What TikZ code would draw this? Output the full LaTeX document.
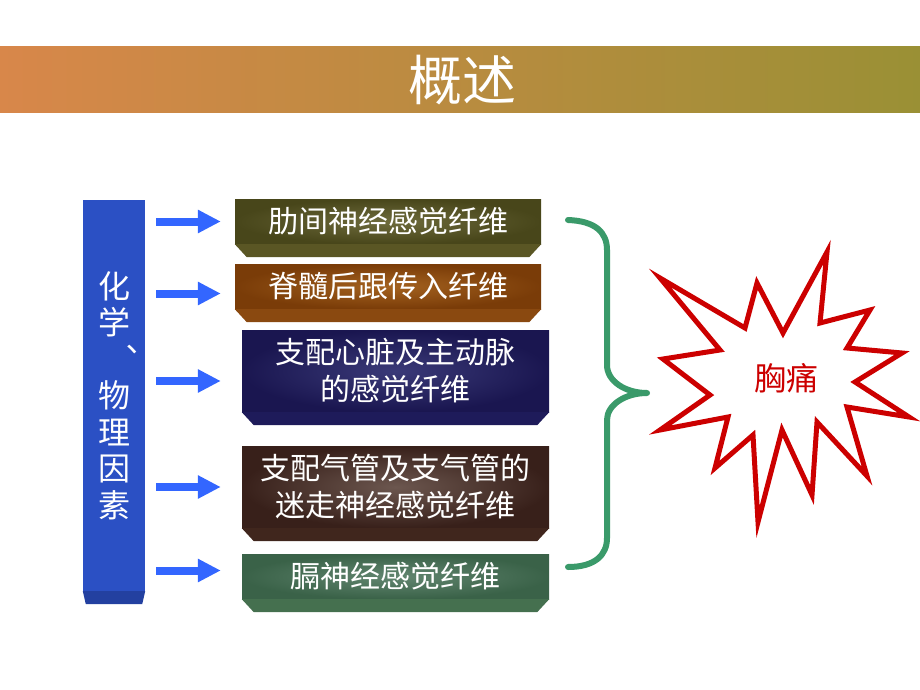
\documentclass[tikz,border=0pt]{standalone}
\usepackage{fontspec}
\setmainfont{Noto Sans CJK SC}
\usetikzlibrary{arrows.meta, calc}

\definecolor{titleleft}{HTML}{D8874A}
\definecolor{titleright}{HTML}{9A9035}
\definecolor{barblue}{HTML}{2B50C4}
\definecolor{barband}{HTML}{2340A0}
\definecolor{arrowblue}{HTML}{3366FF}
\definecolor{bracegreen}{HTML}{3A9A6A}
\definecolor{painred}{HTML}{CC0000}
\definecolor{oliveout}{HTML}{48461A}
\definecolor{olivein}{HTML}{6E6B3C}
\definecolor{oliveband}{HTML}{5A5624}
\definecolor{rustout}{HTML}{7A3C08}
\definecolor{rustin}{HTML}{A4621F}
\definecolor{rustband}{HTML}{8A4910}
\definecolor{navyout}{HTML}{1A1650}
\definecolor{navyin}{HTML}{3A3A78}
\definecolor{navyband}{HTML}{1E1B5A}
\definecolor{umberout}{HTML}{38201A}
\definecolor{umberin}{HTML}{6C574F}
\definecolor{umberband}{HTML}{40261D}
\definecolor{sageout}{HTML}{3A6248}
\definecolor{sagein}{HTML}{628670}
\definecolor{sageband}{HTML}{45704F}

% bevelled strip under a box
\newcommand{\bevelband}[3]{%
  \fill[#2] (#1.south west) -- (#1.south east) -- ([xshift=-#3,yshift=-13pt]#1.south east)
    -- ([xshift=#3,yshift=-13pt]#1.south west) -- cycle;}

\begin{document}
\begin{tikzpicture}[
    x=1pt, y=-1pt,
    fiber/.style={inner sep=0pt, minimum width=306pt, minimum height=45pt, align=center,
      text=white, font=\fontsize{30}{37}\selectfont},
    feed/.style={-{Triangle[length=23pt, width=22pt]}, line width=8pt, draw=arrowblue, shorten <=11pt},
]
\useasboundingbox (0,0) rectangle (920,690);

% Title
\shade[left color=titleleft, right color=titleright] (0,47) rectangle (920,113);
\node[text=white, font=\fontsize{54}{54}\selectfont] (title) at (462,80) {概述};

% Causes
\node[fill=barblue, inner sep=0pt, minimum width=62pt, minimum height=391pt, align=center,
  text=white, font=\fontsize{32}{36.5}\selectfont] (cause) at (114,395.5)
  {化\\学\\\hspace*{16pt}︑\\物\\理\\因\\素};
\bevelband{cause}{barband}{3pt}

% Fibres
\node[fiber, inner color=olivein, outer color=oliveout] (f1) at (388,221.5)
  {肋间神经感觉纤维};
\bevelband{f1}{oliveband}{12pt}

\node[fiber, inner color=rustin, outer color=rustout] (f2) at (388,286.5)
  {脊髓后跟传入纤维};
\bevelband{f2}{rustband}{12pt}

\node[fiber, minimum width=307pt, minimum height=82pt, inner color=navyin, outer color=navyout] (f3)
  at (395.5,371) {支配心脏及主动脉\\的感觉纤维};
\bevelband{f3}{navyband}{12pt}

\node[fiber, minimum width=307pt, minimum height=82pt, inner color=umberin, outer color=umberout] (f4)
  at (395.5,487) {支配气管及支气管的\\迷走神经感觉纤维};
\bevelband{f4}{umberband}{12pt}

\node[fiber, minimum width=307pt, inner color=sagein, outer color=sageout] (f5) at (395.5,576.5)
  {膈神经感觉纤维};
\bevelband{f5}{sageband}{12pt}

\foreach \n/\s/\d in {f1/14/0, f2/14/-7, f3/21/-10, f4/21/0, f5/21/6}
  \draw[feed, shorten >=\s pt] ([yshift=\d pt]cause.east |- \n) -- ([yshift=\d pt]\n.west);

% Brace
\draw[bracegreen, line width=6pt, line cap=round, line join=round]
  (568,220) .. controls (595,221) and (607,232) .. (607,250) -- (607,365)
  .. controls (607,381) and (625,393) .. (647,393)
  .. controls (625,393) and (607,405) .. (607,420) -- (607,538)
  .. controls (607,555) and (595,567) .. (568,567);

% Pain
\draw[painred, fill=white, line width=5pt, miter limit=20]
  (660,278) -- (745,328) -- (757,283) -- (783,333) -- (827,252) -- (820,323)
  -- (870,310) -- (847,348) -- (902,353) -- (855,382) -- (909,417) -- (847,407)
  -- (867,476) -- (817,422) -- (812,495) -- (782,430) -- (758,522) -- (753,435)
  -- (715,468) -- (728,417) -- (660,430) -- (710,395) -- (663,359) -- (720,350) -- cycle;
\node[text=painred, font=\fontsize{32}{32}\selectfont] (pain) at (786,378) {胸痛};

\end{tikzpicture}
\end{document}
